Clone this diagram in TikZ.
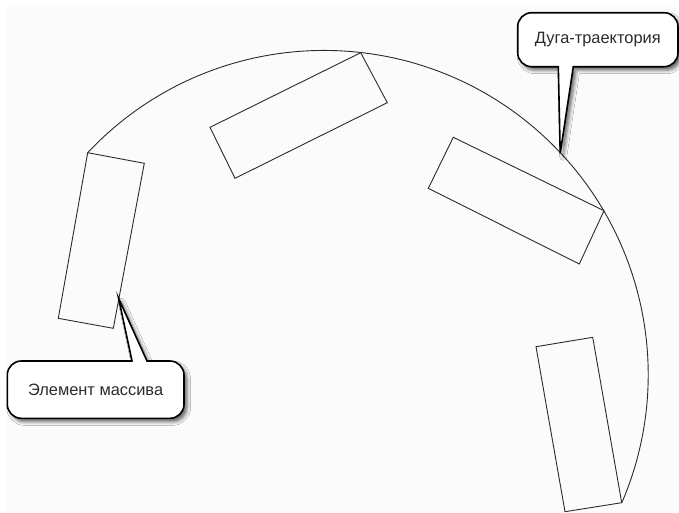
\documentclass[tikz,border=0pt]{standalone}
\usepackage{fontspec}
\setmainfont{Liberation Sans}
\usetikzlibrary{shadows.blur}
\definecolor{arrink}{HTML}{2B2B2B}
\definecolor{arrpanel}{HTML}{FBFBFB}
\tikzset{
  traj/.style={draw=arrink, line width=0.9pt},
  elem/.style={draw=arrink, line width=0.9pt, line join=miter},
  bubblefill/.style={fill=white,
    blur shadow={shadow xshift=3pt, shadow yshift=-3.5pt, shadow blur radius=3.5pt, shadow opacity=60}},
  bubbleline/.style={draw=black, line width=1.6pt, line cap=round, rounded corners=14pt},
  pointer/.style={draw=black, line width=1.6pt, line cap=round, line join=miter},
  txt/.style={font=\fontsize{16.4}{19}\selectfont, text=arrink, inner sep=0pt},
}
\begin{document}
\begin{tikzpicture}[x=1pt, y=-1pt]
  \useasboundingbox (0,0) rectangle (679,512);
  \fill[arrpanel] (6,7) rectangle (679,512);
  % trajectory arc through the element corners
  \draw[traj] (87.7,152.7) arc[start angle=136.8, end angle=-23.2, radius=324.2pt];
  % array elements
  \draw[elem] (87.7,152.7) -- (144.3,163.3) -- (113.3,328.3) -- (58.3,318.3) -- cycle;
  \draw[elem] (360.7,52.7) -- (387.3,102.7) -- (235,178.3) -- (210,127.3) -- cycle;
  \draw[elem] (453.3,137.3) -- (604,210.7) -- (579.3,264) -- (428.3,188.3) -- cycle;
  \draw[elem] (536,346.7) -- (592.7,337.3) -- (621.7,502.7) -- (565,511.7) -- cycle;
  \coordinate (elemtip) at (118.6,298.3);
  \coordinate (arctip) at (560.2,153.3);
  % callout for the arc
  \fill[bubblefill] [rounded corners=14pt] (517.7,12.7) rectangle (678,66.7)
    [sharp corners] (558.3,66.7) -- (arctip) -- (573.3,66.7) -- cycle;
  \draw[bubbleline] (573.3,66.7) -- (678,66.7) -- (678,12.7) -- (517.7,12.7) -- (517.7,66.7) -- (558.3,66.7);
  \draw[pointer] (558.3,66.7) -- (arctip) -- (573.3,66.7);
  \node[txt] (trajlbl) at (597.8,39.7) {Дуга-траектория};
  % callout for the element
  \fill[bubblefill] [rounded corners=14pt] (7.3,361) rectangle (184,418.3)
    [sharp corners] (132,361) -- (elemtip) -- (147,361) -- cycle;
  \draw[bubbleline] (132,361) -- (7.3,361) -- (7.3,418.3) -- (184,418.3) -- (184,361) -- (147,361);
  \draw[pointer] (132,361) -- (elemtip) -- (147,361);
  \node[txt] (elemlbl) at (95.6,389.6) {Элемент массива};
\end{tikzpicture}
\end{document}
